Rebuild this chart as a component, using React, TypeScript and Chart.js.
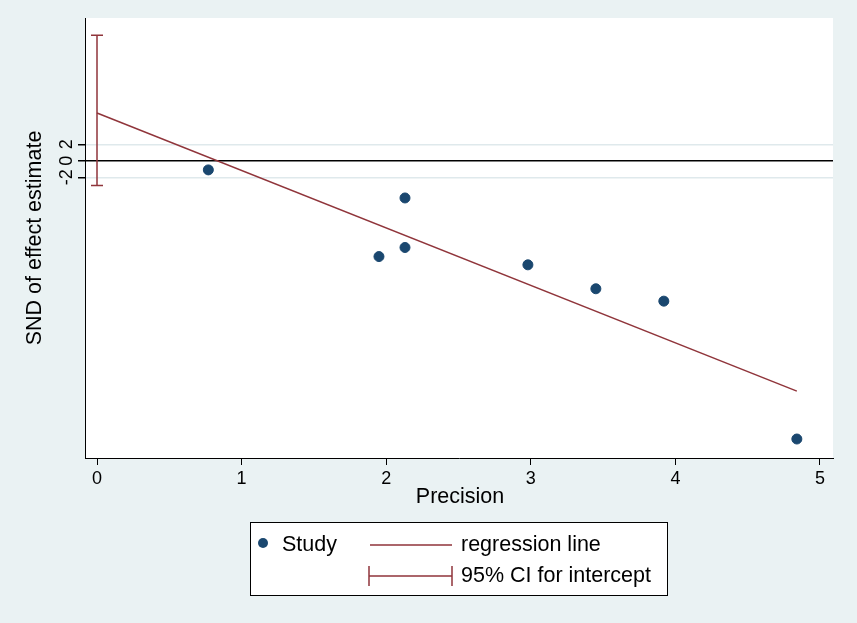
import React, { useEffect, useRef } from "react";
import { Chart, registerables } from "chart.js";
Chart.register(...registerables);

const precision = [0.77, 1.95, 2.13, 2.13, 2.98, 3.45, 3.92, 4.84];
const snd = [-1.1, -11.6, -4.5, -10.5, -12.6, -15.5, -17.0, -33.7];
const regX = [0, 4.84];
const regY = [5.8, -27.9];
const ciX = 0;
const ciLow = -3.0;
const ciHigh = 15.2;
const yTicks = [-2, 0, 2];
const xTicks = [0, 1, 2, 3, 4, 5];

const RED = "#90353b";
const BLUE = "#1a476f";
const FONT = "'Liberation Sans', Arial, sans-serif";

export default function App() {
  const ref = useRef<HTMLCanvasElement>(null);
  useEffect(() => {
    document.body.style.margin = "0";
    const plugin = {
      id: "custom",
      beforeDraw(c: any) {
        const ctx = c.ctx;
        ctx.save();
        ctx.fillStyle = "#eaf2f3";
        ctx.fillRect(0, 0, c.width, c.height);
        const a = c.chartArea;
        ctx.fillStyle = "#ffffff";
        ctx.fillRect(a.left, a.top, a.right - a.left, a.bottom - a.top);
        ctx.restore();
      },
      afterDatasetsDraw(c: any) {
        const ctx = c.ctx;
        const xs = c.scales.x, ys = c.scales.y;
        ctx.save();
        const px = xs.getPixelForValue(ciX);
        const p1 = ys.getPixelForValue(ciLow), p2 = ys.getPixelForValue(ciHigh);
        ctx.strokeStyle = RED;
        ctx.lineWidth = 1.5;
        ctx.beginPath();
        ctx.moveTo(px, p1); ctx.lineTo(px, p2);
        ctx.moveTo(px - 6, p1); ctx.lineTo(px + 6, p1);
        ctx.moveTo(px - 6, p2); ctx.lineTo(px + 6, p2);
        ctx.stroke();
        ctx.fillStyle = "#000";
        ctx.font = `18px ${FONT}`;
        ctx.textAlign = "center";
        ctx.textBaseline = "bottom";
        for (const t of yTicks) {
          const y = ys.getPixelForValue(t);
          ctx.save();
          ctx.translate(76, y);
          ctx.rotate(-Math.PI / 2);
          ctx.fillText(String(t), 0, 0);
          ctx.restore();
        }
        ctx.font = `21.5px ${FONT}`;
        ctx.textBaseline = "middle";
        ctx.fillText("Precision", (c.chartArea.left + c.chartArea.right) / 2 + 1, 497);
        ctx.save();
        ctx.translate(35, (c.chartArea.top + c.chartArea.bottom) / 2);
        ctx.rotate(-Math.PI / 2);
        ctx.fillText("SND of effect estimate", 0, 0);
        ctx.restore();
        ctx.fillStyle = "#fff";
        ctx.fillRect(250, 522, 417, 73);
        ctx.strokeStyle = "#000";
        ctx.lineWidth = 1;
        ctx.strokeRect(250.5, 522.5, 417, 73);
        ctx.fillStyle = BLUE;
        ctx.beginPath(); ctx.arc(263, 543, 5, 0, Math.PI * 2); ctx.fill();
        ctx.fillStyle = "#000";
        ctx.textAlign = "left";
        ctx.fillText("Study", 282, 545);
        ctx.fillText("regression line", 461, 545);
        ctx.fillText("95% CI for intercept", 461, 576);
        ctx.strokeStyle = RED;
        ctx.lineWidth = 1.5;
        ctx.beginPath();
        ctx.moveTo(370, 545); ctx.lineTo(452, 545);
        ctx.moveTo(369, 576); ctx.lineTo(452, 576);
        ctx.moveTo(369, 566); ctx.lineTo(369, 586);
        ctx.moveTo(452, 566); ctx.lineTo(452, 586);
        ctx.stroke();
        ctx.restore();
      },
    };
    const chart = new Chart(ref.current!, {
      type: "scatter",
      data: {
        datasets: [
          {
            data: precision.map((x, i) => ({ x, y: snd[i] })),
            backgroundColor: BLUE,
            borderColor: BLUE,
            pointRadius: 5,
          },
          {
            type: "line",
            data: regX.map((x, i) => ({ x, y: regY[i] })),
            borderColor: RED,
            borderWidth: 1.5,
            pointRadius: 0,
            fill: false,
          } as any,
        ],
      },
      options: {
        animation: false,
        responsive: false,
        layout: { padding: { top: 18, right: 24, left: 0, bottom: 0 } },
        plugins: { legend: { display: false }, tooltip: { enabled: false } },
        scales: {
          x: {
            type: "linear",
            min: -0.083,
            max: 5.09,
            afterBuildTicks: (s: any) => { s.ticks = xTicks.map((v) => ({ value: v })); },
            afterFit: (s: any) => { s.height = 165; },
            ticks: { color: "#000", font: { size: 18, family: FONT }, padding: 3 },
            grid: { drawOnChartArea: false, tickLength: 7, color: "#000", tickColor: "#000" },
            border: { color: "#000", width: 1 },
          },
          y: {
            type: "linear",
            min: -36,
            max: 17.3,
            afterBuildTicks: (s: any) => { s.ticks = yTicks.map((v) => ({ value: v })); },
            afterFit: (s: any) => { s.width = 85; },
            ticks: { display: false },
            grid: {
              tickLength: 7,
              color: (ctx: any) => (ctx.tick && ctx.tick.value === 0 ? "#000" : "#dfe9ec"),
              lineWidth: 1.5,
              tickColor: "#000",
            },
            border: { color: "#000", width: 1 },
          },
        },
      },
      plugins: [plugin],
    } as any);
    return () => chart.destroy();
  }, []);
  return <canvas ref={ref} width={857} height={623} style={{ display: "block" }} />;
}
